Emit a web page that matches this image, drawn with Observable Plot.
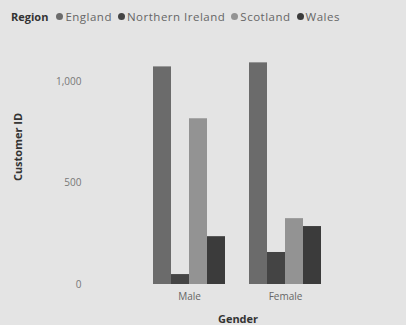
<!DOCTYPE html>
<html>
<head>
<meta charset="utf-8">
<script src="https://cdn.jsdelivr.net/npm/d3@7"></script>
<script src="https://cdn.jsdelivr.net/npm/@observablehq/plot@0.6"></script>
<style>
  body { margin: 0; background: #e4e4e4; font-family: "Open Sans", "Noto Sans", sans-serif; width: 406px; height: 325px; overflow: hidden; position: relative; }
  #legend { height: 32px; display: flex; align-items: center; padding-left: 11px; font-size: 11.5px; letter-spacing: 0.5px; color: #666; white-space: nowrap; }
  #legend .title { font-weight: bold; color: #333; font-size: 11px; letter-spacing: 0; margin-right: 8px; }
  #legend .item { display: flex; align-items: center; margin-right: 6px; }
  #legend .dot { width: 7px; height: 7px; border-radius: 50%; margin-right: 2px; }
  .axis-title { position: absolute; font-size: 11px; font-weight: bold; color: #333; white-space: nowrap; }
  #ylabel { left: 17px; top: 147px; transform: translate(-50%, -50%) rotate(-90deg); }
  #xlabel { left: 238px; top: 318px; transform: translate(-50%, -50%); }
  svg { display: block; }
</style>
</head>
<body>
<div id="legend"></div>
<div id="chart"></div>
<div id="ylabel" class="axis-title">Customer ID</div>
<div id="xlabel" class="axis-title">Gender</div>
<script>
// Customer counts by gender and region
const genders = ["Male", "Female"];
const regions = ["England", "Northern Ireland", "Scotland", "Wales"];
const maleCounts = [1074, 49, 818, 236];
const femaleCounts = [1094, 158, 325, 286];
const regionColors = ["#6b6b6b", "#444444", "#939393", "#3b3b3b"];
const yTicks = [0, 500, 1000];

const rows = [
  ...regions.map((r, i) => ({gender: "Male", region: r, count: maleCounts[i]})),
  ...regions.map((r, i) => ({gender: "Female", region: r, count: femaleCounts[i]}))
];

const plot = Plot.plot({
  width: 406,
  height: 293,
  marginLeft: 129,
  marginRight: 61,
  marginTop: 19,
  marginBottom: 41,
  style: {background: "transparent", fontFamily: "'Open Sans', 'Noto Sans', sans-serif"},
  fx: {domain: genders, paddingInner: 0.25, paddingOuter: 0.25},
  x: {domain: regions, padding: 0, axis: null},
  y: {domain: [0, 1150], label: null},
  color: {domain: regions, range: regionColors},
  marks: [
    Plot.barY(rows, {fx: "gender", x: "region", y: "count", fill: "region"}),
    Plot.axisFx({anchor: "bottom", tickSize: 0, tickPadding: 8, fontSize: 10, fill: "#666", label: null}),
    Plot.axisY({ticks: yTicks, tickFormat: d3.format(","), tickSize: 0, tickPadding: 72,
      fontSize: 10, fill: "#777", label: null})
  ]
});
document.getElementById("chart").append(plot);

const color = plot.scale("color");
const legend = document.getElementById("legend");
legend.innerHTML = `<span class="title">Region</span>` + regions.map((r) =>
  `<span class="item"><span class="dot" style="background:${color.apply(r)}"></span>${r}</span>`).join("");
</script>
</body>
</html>
